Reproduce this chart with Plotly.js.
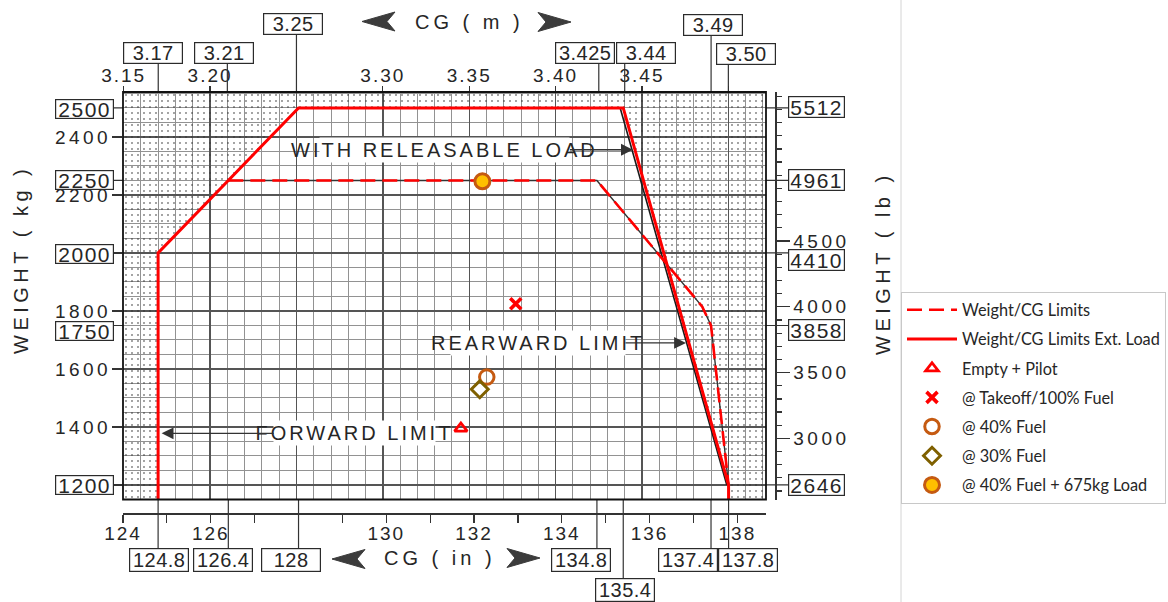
<!DOCTYPE html>
<html>
<head>
<meta charset="utf-8">
<script src="https://cdn.plot.ly/plotly-3.0.1.min.js"></script>
<style>
  html, body { margin: 0; padding: 0; background: #fff; }
  #chart { width: 1168px; height: 602px; }
  #chart .annotation-text { letter-spacing: 3px; }
  #chart .xtick text, #chart .x2tick text { letter-spacing: 2px; }
  #chart .ytick text, #chart .y2tick text { letter-spacing: 3.5px; }
</style>
</head>
<body>
<div id="chart"></div>
<script>
// ---- Weight / CG envelope (CG in inches, weight in kg) ----
// limits with external (releasable) load
const extLoadCG = [124.8, 124.8, 128.0, 135.4, 137.8, 137.8];
const extLoadWt = [1150, 2000, 2500, 2500, 1200, 1150];
// normal weight / CG limits
const limitCG = [126.4, 134.8, 137.2, 137.4, 137.8];
const limitWt = [2250, 2250, 1815, 1750, 1200];
// printed rear boundary line of the base chart
const printedRearCG = [135.33, 137.76];
const printedRearWt = [2500, 1200];

// ---- loading cases ----
const caseNames = ['Empty + Pilot', '@ Takeoff/100% Fuel', '@ 40% Fuel', '@ 30% Fuel', '@ 40% Fuel + 675kg Load'];
const caseCG = [131.7, 132.95, 132.29, 132.13, 132.19];
const caseWt = [1395, 1825, 1572, 1530, 2247];

// ---- tick labels ----
const topTickVals = [3.15, 3.20, 3.25, 3.30, 3.35, 3.40, 3.45, 3.50];
const topTickText = ['3.15', '3.20', '', '3.30', '3.35', '3.40', '3.45', ''];
const bottomTickVals = [124, 125, 126, 127, 128, 129, 130, 131, 132, 133, 134, 135, 136, 137, 138];
const bottomTickText = ['124', '', '126', '', '', '', '130', '', '132', '', '134', '', '136', '', '138'];
const kgTickVals = [1200, 1400, 1600, 1800, 2000, 2200, 2400];
const kgTickText = ['', '1400', '1600', '1800', '', '2200', '2400'];
const lbTickVals = [3000, 3500, 4000, 4500];
const lbTickText = ['3000', '3500', '4000', '4500'];

// ---- boxed reference values ----
const topBoxes = ['3.17', '3.21', '3.25', '3.425', '3.44', '3.49', '3.50'];
const bottomBoxes = ['124.8', '126.4', '128', '134.8', '135.4', '137.4', '137.8'];
const kgBoxes = ['2500', '2250', '2000', '1750', '1200'];
const lbBoxes = ['5512', '4961', '4410', '3858', '2646'];

// ---- geometry ----
const FONT = 'Liberation Sans, Arial, sans-serif';
const FIG_W = 1168, FIG_H = 602;
const M = {l: 123, r: 0, t: 92, b: 89};
const PW = FIG_W - M.l - M.r, PH = FIG_H - M.t - M.b;
const px = v => (v - M.l) / PW;            // pixel column -> paper x
const py = v => (FIG_H - M.b - v) / PH;    // pixel row -> paper y
const IN_TO_M = 0.0254, KG_TO_LB = 2.20462;
const cgRange = [124, 138.653];
const wtRange = [1150, 2555];

// box placement (pixel offsets of each box from its leader)
const topBoxShift = [-5.7, -3.7, -3, -13.5, 21.4, 1.8, 18];
const topBoxRow = [53, 53, 23.5, 53, 53, 24.5, 53.5];
const bottomBoxShift = [0.4, -5, -7.7, -15.6, 1.7, -23.5, 19.5];
const bottomBoxRow = [560, 560, 560, 560, 590, 560, 560];
const kgBoxShift = [-1, 0.3, -1.3, -5.3, 0.3];
const lbBoxShift = [0.8, 0, -7.3, -4.3, 0];

const ink = '#262626';
const traces = [];

// dotted (out-of-limits) area: frame minus the extended-load envelope
const stippleX = [cgRange[0], cgRange[0], cgRange[1], cgRange[1]].concat(extLoadCG.slice().reverse(), [cgRange[0]]);
const stippleY = [wtRange[0], wtRange[1], wtRange[1], wtRange[0]].concat(extLoadWt.slice().reverse(), [wtRange[0]]);
traces.push({
  x: stippleX, y: stippleY, mode: 'lines', fill: 'toself', line: {width: 0},
  fillcolor: 'rgba(0,0,0,0)',
  fillpattern: {shape: '.', size: 6, solidity: 0.055, fgcolor: '#2e2e2e', bgcolor: 'rgba(0,0,0,0)'},
  hoverinfo: 'skip', showlegend: false
});
// printed black boundary lines beneath the red overlays
traces.push({x: printedRearCG, y: printedRearWt, mode: 'lines', line: {color: '#1a1a1a', width: 1.6}, hoverinfo: 'skip', showlegend: false});
traces.push({x: limitCG, y: limitWt, mode: 'lines', line: {color: '#333', width: 1.4}, hoverinfo: 'skip', showlegend: false});

traces.push({
  x: limitCG, y: limitWt, mode: 'lines', name: 'Weight/CG Limits', legendgroup: 'g1',
  line: {color: '#ff0000', width: 2.6, dash: '15px,7px'}
});
traces.push({
  x: extLoadCG, y: extLoadWt, mode: 'lines', name: 'Weight/CG Limits Ext. Load', legendgroup: 'g2',
  line: {color: '#ff0000', width: 3}
});

const caseMarkers = [
  {symbol: 'triangle-up-open', size: 11, color: '#ff0000', line: {width: 2.8}},
  {symbol: 'x-thin-open', size: 11, color: '#ff0000', line: {width: 3.6}},
  {symbol: 'circle-open', size: 14.5, color: '#c55a11', line: {width: 3}},
  {symbol: 'diamond-open', size: 13, color: '#7f6000', line: {width: 3}},
  {symbol: 'circle', size: 15, color: '#ffc000', line: {width: 3, color: '#c55a11'}}
];
caseNames.forEach((n, i) => {
  traces.push({
    x: [caseCG[i]], y: [caseWt[i]], mode: 'markers', name: n, legendgroup: 'c' + i,
    marker: caseMarkers[i]
  });
});

// ---- annotations & shapes ----
const annotations = [];
const shapes = [];
const leader = {color: '#333', width: 1.2};
const boxStyle = {showarrow: false, bgcolor: '#fff', bordercolor: '#2b2b2b', borderwidth: 1.2, borderpad: 1,
  xanchor: 'center', yanchor: 'middle'};
const spaced = (t, s) => '<span style="letter-spacing:' + s + 'px">' + t + '</span>';

topBoxes.forEach((t, i) => {
  const v = parseFloat(t);
  annotations.push(Object.assign({}, boxStyle, {
    text: spaced(t, 0.5), xref: 'x2', x: v, xshift: topBoxShift[i], yref: 'paper', y: py(topBoxRow[i]),
    width: 56, height: 18, font: {family: FONT, size: 20, color: ink}
  }));
  shapes.push({type: 'line', xref: 'x2', x0: v, x1: v, yref: 'paper', y0: py(topBoxRow[i] + 11), y1: 1, line: leader});
});
bottomBoxes.forEach((t, i) => {
  const v = parseFloat(t);
  annotations.push(Object.assign({}, boxStyle, {
    text: spaced(t, 0.5), xref: 'x', x: v, xshift: bottomBoxShift[i], yref: 'paper', y: py(bottomBoxRow[i]),
    width: 56, height: 20, font: {family: FONT, size: 20, color: ink}
  }));
  shapes.push({type: 'line', xref: 'x', x0: v, x1: v, yref: 'paper', y0: py(bottomBoxRow[i] - 12), y1: py(499.5), line: leader});
});
kgBoxes.forEach((t, i) => {
  const v = parseFloat(t);
  annotations.push(Object.assign({}, boxStyle, {
    text: spaced(t, 1.5), xref: 'paper', x: px(113.5), xanchor: 'right', yref: 'y', y: v, yshift: kgBoxShift[i],
    width: 55, height: 16, font: {family: FONT, size: 21, color: ink}
  }));
  shapes.push({type: 'line', xref: 'paper', x0: px(113), x1: 0, yref: 'y', y0: v, y1: v, line: leader});
});
lbBoxes.forEach((t, i) => {
  const v = parseFloat(t);
  annotations.push(Object.assign({}, boxStyle, {
    text: spaced(t, 1.5), xref: 'paper', x: px(787.5), xanchor: 'left', yref: 'y2', y: v, yshift: lbBoxShift[i],
    width: 53, height: 18, font: {family: FONT, size: 21, color: ink}
  }));
  shapes.push({type: 'line', xref: 'paper', x0: px(766), x1: px(788), yref: 'y2', y0: v, y1: v, line: leader});
});

// axis titles
const titleFont = {family: FONT, size: 20, color: ink};
const paperText = (text, x, y, extra) => Object.assign({
  text: text, xref: 'paper', yref: 'paper', x: px(x), y: py(y),
  xanchor: 'center', yanchor: 'middle', showarrow: false, font: titleFont
}, extra || {});
annotations.push(
  paperText(spaced('CG ( m )', 4), 469, 22),
  paperText(spaced('CG ( in )', 4), 440, 558),
  paperText(spaced('WEIGHT ( kg )', 4.5), 21, 260, {textangle: -90}),
  paperText(spaced('WEIGHT ( lb )', 4.5), 883, 263, {textangle: -90})
);

// barbed arrowheads beside the CG titles (pixel tip position, direction)
function arrowHead(tipX, tipY, dir) {
  const len = 33, half = 9.5, notch = 8;
  const pts = [[tipX, tipY], [tipX - dir * len, tipY - half], [tipX - dir * (len - notch), tipY], [tipX - dir * len, tipY + half]];
  return {
    type: 'path', xref: 'paper', yref: 'paper', fillcolor: '#3c3c3c', line: {color: '#3c3c3c', width: 1},
    path: 'M' + pts.map(p => px(p[0]).toFixed(5) + ',' + py(p[1]).toFixed(5)).join(' L') + ' Z'
  };
}
shapes.push(arrowHead(362, 21.5, -1), arrowHead(571, 22, 1), arrowHead(332, 559, -1), arrowHead(540, 558, 1));

// captions pointing at the limit lines
const captionStyle = {showarrow: true, arrowhead: 2, arrowsize: 1.7, arrowwidth: 1.4, arrowcolor: '#333',
  bgcolor: '#fff', borderpad: 1, ay: 0, standoff: 0, font: {family: FONT, size: 20, color: ink}};
annotations.push(
  Object.assign({}, captionStyle, {text: 'WITH RELEASABLE LOAD', xref: 'x', yref: 'y', x: 135.62, y: 2356, ax: -188}),
  Object.assign({}, captionStyle, {text: 'REARWARD LIMIT', xref: 'x', yref: 'y', x: 136.83, y: 1690, ax: -148}),
  Object.assign({}, captionStyle, {text: 'FORWARD LIMIT', xref: 'x', yref: 'y', x: 124.88, y: 1378, ax: 193})
);

// plot frame and legend-cell divider
shapes.push({type: 'rect', xref: 'x domain', yref: 'y domain', x0: 0, x1: 1, y0: 0, y1: 1, line: {color: '#111', width: 1.8}, layer: 'above'});
shapes.push({type: 'line', xref: 'paper', yref: 'paper', x0: px(901), x1: px(901), y0: py(602), y1: py(0), line: {color: '#d4d4d4', width: 1}});

const tickFont = {family: FONT, size: 19, color: ink};
const layout = {
  width: FIG_W, height: FIG_H,
  margin: M,
  paper_bgcolor: '#fff', plot_bgcolor: '#fff',
  font: {family: FONT, color: ink},
  showlegend: true,
  legend: {
    x: px(901), y: py(291.7), xanchor: 'left', yanchor: 'top',
    bgcolor: '#fff', bordercolor: '#c8c8c8', borderwidth: 1,
    font: {family: 'Lato, sans-serif', size: 16.3, color: '#262626'},
    tracegroupgap: 5, itemwidth: 50, traceorder: 'grouped'
  },
  xaxis: {
    domain: [0, px(766)], range: cgRange, anchor: 'free', position: 0,
    tickmode: 'array', tickvals: bottomTickVals, ticktext: bottomTickText,
    ticks: 'outside', ticklen: 8, tickwidth: 1.2, tickcolor: '#333', ticklabelstandoff: -5,
    showgrid: false, zeroline: false, showline: true, linecolor: '#333', linewidth: 1.5,
    tickfont: tickFont
  },
  xaxis2: {
    overlaying: 'x', side: 'top', anchor: 'y',
    range: [cgRange[0] * IN_TO_M, cgRange[1] * IN_TO_M],
    tickmode: 'array', tickvals: topTickVals, ticktext: topTickText,
    ticks: 'outside', ticklen: 5, tickwidth: 1.2, tickcolor: '#333', ticklabelstandoff: -4,
    showgrid: true, gridcolor: '#555', gridwidth: 1.4,
    minor: {tickmode: 'linear', tick0: 3.15, dtick: 0.01, showgrid: true, gridcolor: '#929292', gridwidth: 1, ticks: ''},
    zeroline: false, showline: false, tickfont: tickFont
  },
  yaxis: {
    domain: [py(499.5), 1], range: wtRange,
    tickmode: 'array', tickvals: kgTickVals, ticktext: kgTickText,
    ticks: 'outside', ticklen: 10, tickwidth: 1.2, tickcolor: '#333', ticklabelstandoff: -3,
    showgrid: true, gridcolor: '#555', gridwidth: 1.4,
    minor: {tickmode: 'linear', tick0: 1200, dtick: 50, showgrid: true, gridcolor: '#929292', gridwidth: 1, ticks: ''},
    zeroline: false, showline: false, tickfont: tickFont
  },
  yaxis2: {
    overlaying: 'y', side: 'right', anchor: 'free', position: px(775),
    range: [wtRange[0] * KG_TO_LB, wtRange[1] * KG_TO_LB],
    tickmode: 'array', tickvals: lbTickVals, ticktext: lbTickText,
    ticks: 'outside', ticklen: 13, tickwidth: 1.2, tickcolor: '#333',
    showgrid: false, zeroline: false, showline: true, linecolor: '#333', linewidth: 1.5,
    minor: {tickmode: 'linear', tick0: 2600, dtick: 100, ticks: 'outside', ticklen: 5, tickcolor: '#333', showgrid: false},
    tickfont: tickFont
  },
  annotations: annotations,
  shapes: shapes
};

Plotly.newPlot('chart', traces, layout, {displayModeBar: false, staticPlot: true});
</script>
</body>
</html>
